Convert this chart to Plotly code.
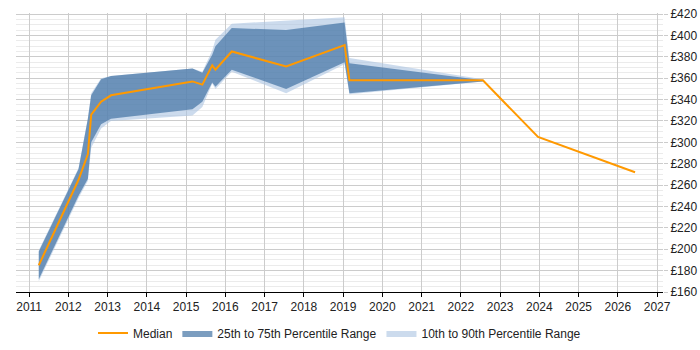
import plotly.graph_objects as go

dates = ["2011-04-01", "2012-04-05", "2012-07-01", "2012-08-01", "2012-11-01",
         "2013-02-01", "2015-03-01", "2015-06-01", "2015-09-01", "2015-10-01",
         "2016-03-01", "2017-07-20", "2019-01-15", "2019-03-01", "2022-07-25",
         "2023-12-20", "2026-06-10"]
median = [185, 265, 289, 326, 338, 344, 357, 354, 372, 368, 385, 371, 391, 358, 358, 305, 272]
p25 = [172, 250, 266, 300, 317, 322, 331, 338, 356, 352, 368, 350, 375, 346, 357]
p75 = [198, 275, 322, 344, 359, 362, 369, 365, 382, 390, 407, 405, 412, 374, 358]
p10 = [170, 248, 264, 295, 313, 320, 325, 333, 355, 350, 366, 346, 373, 345, 357]
p90 = [199, 276, 323, 346, 360, 362, 369, 366, 386, 396, 411, 414, 417, 379, 359]
year_ticks = [str(y) for y in range(2011, 2028)]

band_dates = dates[:len(p25)]
FONT = "Liberation Sans, Arial, sans-serif"

fig = go.Figure()
fig.add_trace(go.Scatter(x=band_dates, y=p10, mode="lines", line=dict(width=0),
                         showlegend=False, hoverinfo="skip"))
fig.add_trace(go.Scatter(x=band_dates, y=p90, mode="lines", line=dict(width=0),
                         fill="tonexty", fillcolor="rgba(170,195,225,0.6)",
                         name="10th to 90th Percentile Range", legendrank=3))
fig.add_trace(go.Scatter(x=band_dates, y=p25, mode="lines", line=dict(width=0),
                         showlegend=False, hoverinfo="skip"))
fig.add_trace(go.Scatter(x=band_dates, y=p75, mode="lines", line=dict(width=0),
                         fill="tonexty", fillcolor="rgba(67,115,164,0.7)",
                         name="25th to 75th Percentile Range", legendrank=2))
fig.add_trace(go.Scatter(x=dates, y=median, mode="lines",
                         line=dict(color="#ff9900", width=2),
                         name="Median", legendrank=1))

fig.update_layout(
    width=700, height=350,
    margin=dict(l=16, r=37, t=13, b=58, autoexpand=False),
    paper_bgcolor="white", plot_bgcolor="white",
    font=dict(family=FONT, size=12, color="#222"),
    legend=dict(orientation="h", x=0.5, xanchor="center",
                y=1 - 333 / 350, yref="container", yanchor="middle",
                font=dict(size=12, color="#222"), traceorder="normal",
                itemwidth=30),
    showlegend=True,
)
fig.update_xaxes(
    type="date", automargin=False,
    range=["2010-09-01", "2027-02-25"],
    tickvals=[f"{y}-01-01" for y in year_ticks],
    ticktext=year_ticks,
    showgrid=True, gridcolor="#cccccc", gridwidth=1,
    showline=True, linecolor="#000", linewidth=1,
    ticks="outside", ticklen=4, tickcolor="#000",
    zeroline=False,
)
fig.update_yaxes(
    side="right", automargin=False,
    range=[160, 421],
    dtick=20, tick0=160, tickprefix="£",
    showgrid=True, gridcolor="#cccccc", gridwidth=1,
    minor=dict(dtick=5, showgrid=True, gridcolor="#ebebeb", gridwidth=1),
    ticks="outside", ticklen=4, tickcolor="#ccc",
    showline=False, zeroline=False,
)

fig.write_html("out.html")
